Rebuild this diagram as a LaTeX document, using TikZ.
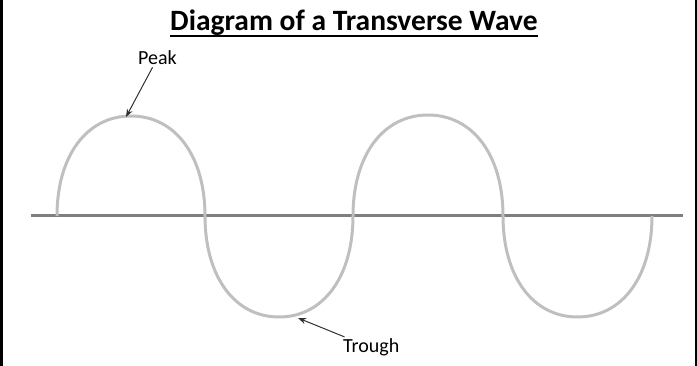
\documentclass[tikz,border=0pt]{standalone}
\usepackage{fontspec}
\setmainfont{Carlito}
\usetikzlibrary{arrows.meta}
\definecolor{axisgray}{HTML}{7F7F7F}
\definecolor{wavegray}{HTML}{BFBFBF}
\definecolor{arrowgray}{HTML}{303030}
\tikzset{
  lbl/.style={font=\fontsize{20}{24}\selectfont, inner sep=2pt, text=black},
  pointer/.style={draw=arrowgray, line width=1pt, -{Stealth[length=8pt,width=6pt]}},
  wave/.style={draw=wavegray, line width=3pt},
  axisline/.style={draw=axisgray, line width=3pt},
  frameline/.style={draw=black, line width=2.5pt}
}
\begin{document}
\begin{tikzpicture}[x=1pt,y=-1pt]
\useasboundingbox (0,0) rectangle (697,366);
% side frame lines
\draw[frameline] (1.25,0) -- (1.25,366);
\draw[frameline] (695.75,0) -- (695.75,366);
% title
\node[font=\fontsize{29.5}{34}\selectfont\bfseries, inner sep=0pt, anchor=base] (title) at (354,31) {Diagram of a Transverse Wave};
\draw[line width=2pt] ([yshift=-5pt]title.base west) -- ([yshift=-5pt]title.base east);
% axis
\coordinate (axL) at (31,216);
\coordinate (axR) at (683,216);
\draw[axisline] (axL) -- (axR);
% wave
\coordinate (w0) at (57,216);
\draw[wave] (w0)
  .. controls (57,156) and (86.6,116) .. (131,116)
  .. controls (175.4,116) and (205,156) .. (205,216)
  .. controls (205,276.6) and (234.6,317) .. (279,317)
  .. controls (323.4,317) and (353,276.6) .. (353,216)
  .. controls (353,155.4) and (383,115) .. (428,115)
  .. controls (473,115) and (503,155.4) .. (503,216)
  .. controls (503,276.6) and (532.8,317) .. (577.5,317)
  .. controls (622.2,317) and (652,276.6) .. (652,216);
% labels
\coordinate (pk) at (126,117);
\coordinate (tr) at (298,318);
\node[lbl, anchor=base west] (peak) at (136,65) {Peak};
\node[lbl, anchor=base west] (trough) at (341,353) {Trough};
\draw[pointer] (peak) -- (pk);
\draw[pointer] (trough) -- (tr);
\end{tikzpicture}
\end{document}
